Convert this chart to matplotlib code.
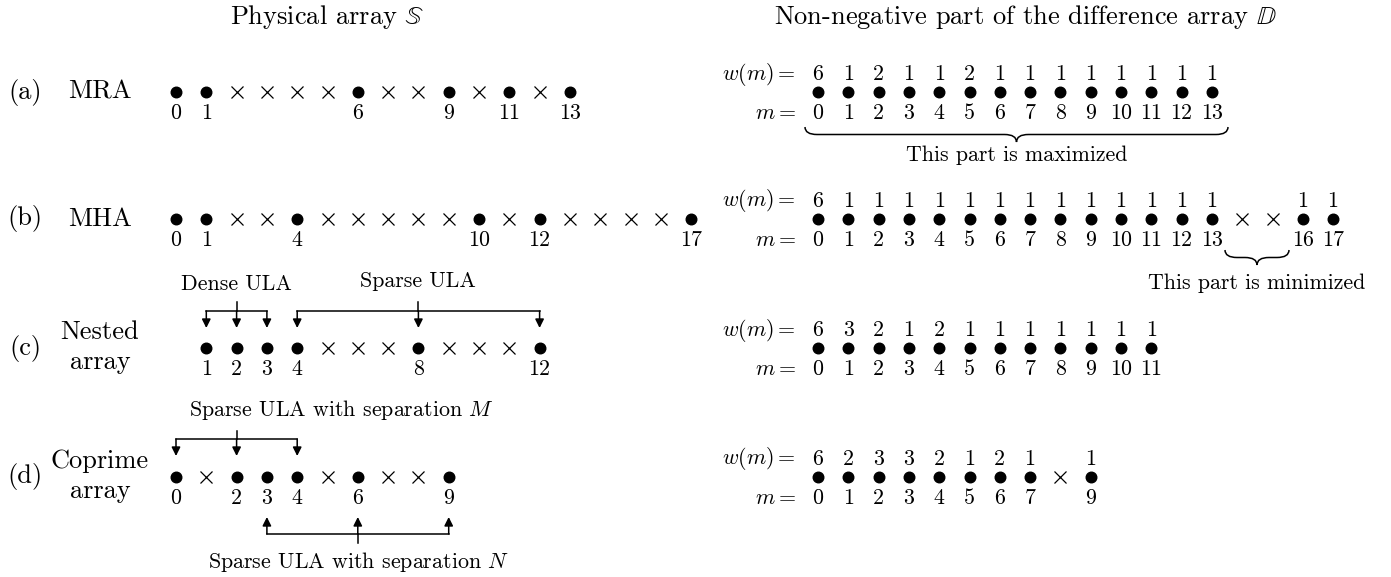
import matplotlib
matplotlib.use("Agg")
import matplotlib.pyplot as plt
import numpy as np
from matplotlib.path import Path
from matplotlib.patches import PathPatch

plt.rcParams["font.family"] = "cmr10"
plt.rcParams["mathtext.fontset"] = "cm"
plt.rcParams["axes.unicode_minus"] = False

# sensor positions of the physical arrays
mra_pos = [0, 1, 6, 9, 11, 13]
mha_pos = [0, 1, 4, 10, 12, 17]
nested_pos = [1, 2, 3, 4, 8, 12]
coprime_pos = [0, 2, 3, 4, 6, 9]

# weight function w(m) for m >= 0 (0 means a hole in the difference array)
mra_w = [6, 1, 2, 1, 1, 2, 1, 1, 1, 1, 1, 1, 1, 1]
mha_w = [6, 1, 1, 1, 1, 1, 1, 1, 1, 1, 1, 1, 1, 1, 0, 0, 1, 1]
nested_w = [6, 3, 2, 1, 2, 1, 1, 1, 1, 1, 1, 1]
coprime_w = [6, 2, 3, 3, 2, 1, 2, 1, 0, 1]

row_tags = ["(a)", "(b)", "(c)", "(d)"]
row_names = ["MRA", "MHA", "Nested\narray", "Coprime\narray"]

# layout (pixels)
ROW_Y = [92, 219, 348, 477]
LX0, RX0, STEP = 176, 818, 30.3
BIG, SMALL = 19, 15.8


def lx(k):
    return LX0 + STEP * np.asarray(k, dtype=float)


def rx(k):
    return RX0 + STEP * np.asarray(k, dtype=float)


def draw_physical(ax, pos, y):
    span = list(range(min(pos), max(pos) + 1))
    holes = [k for k in span if k not in pos]
    ax.plot(lx(pos), [y] * len(pos), "o", ms=7.6, color="k")
    if holes:
        ax.plot(lx(holes), [y] * len(holes), "x", ms=8.5, mew=0.9, color="k")
    for k in pos:
        ax.text(lx(k), y + 21, str(k), ha="center", va="center", fontsize=SMALL)


def draw_coarray(ax, w, y):
    lags = np.arange(len(w))
    w = np.asarray(w)
    ok = lags[w > 0]
    holes = lags[w == 0]
    ax.plot(rx(ok), [y] * len(ok), "o", ms=7.6, color="k")
    if len(holes):
        ax.plot(rx(holes), [y] * len(holes), "x", ms=8.5, mew=0.9, color="k")
    for m in ok:
        ax.text(rx(m), y - 18, str(w[m]), ha="center", va="center", fontsize=SMALL)
        ax.text(rx(m), y + 21, str(m), ha="center", va="center", fontsize=SMALL)
    ax.text(796, y - 18, r"$w(m) =$", ha="right", va="center", fontsize=SMALL)
    ax.text(796, y + 21, r"$m =$", ha="right", va="center", fontsize=SMALL)


def brace(ax, x1, x2, y0, h):
    y1 = y0 + h / 2
    xm = (x1 + x2) / 2
    q = min(12, (x2 - x1) / 4)
    verts = [(x1, y0), (x1, y1), (x1 + q, y1), (xm - q, y1),
             (xm, y1), (xm, y0 + h), (xm, y1), (xm + q, y1),
             (x2 - q, y1), (x2, y1), (x2, y0)]
    codes = [Path.MOVETO, Path.CURVE3, Path.CURVE3, Path.LINETO,
             Path.CURVE3, Path.CURVE3, Path.CURVE3, Path.CURVE3,
             Path.LINETO, Path.CURVE3, Path.CURVE3]
    ax.add_patch(PathPatch(Path(verts, codes), fc="none", ec="k", lw=1.1))


def bracket(ax, xs, x_stem, y_line, y_tip, y_stem):
    xs = lx(xs)
    xc = lx(x_stem)
    ax.plot([xs.min(), xs.max()], [y_line, y_line], color="k", lw=1.1)
    ax.plot([xc, xc], [y_stem, y_line], color="k", lw=1.1)
    for x in xs:
        ax.annotate("", xy=(x, y_tip), xytext=(x, y_line),
                    arrowprops=dict(arrowstyle="-|>", color="k", lw=1.1,
                                    mutation_scale=13, shrinkA=0, shrinkB=0))


fig = plt.figure(figsize=(13.91, 5.77), dpi=100)
ax = fig.add_axes([0, 0, 1, 1])
ax.set_xlim(0, 1391)
ax.set_ylim(577, 0)
ax.axis("off")

ax.text(327, 17, r"Physical array $\mathbb{S}$", ha="center", va="center",
        fontsize=BIG, math_fontfamily="stix")
ax.text(1025, 17, r"Non-negative part of the difference array $\mathbb{D}$",
        ha="center", va="center", fontsize=BIG, math_fontfamily="stix")

for tag, name, y in zip(row_tags, row_names, ROW_Y):
    ax.text(25, y, tag, ha="center", va="center", fontsize=BIG)
    lines = name.split("\n")
    if len(lines) == 1:
        ax.text(100, y, name, ha="center", va="center", fontsize=BIG)
    else:
        ax.text(100, y - 16, lines[0], ha="center", va="center", fontsize=BIG)
        ax.text(100, y + 14, lines[1], ha="center", va="center", fontsize=BIG)

for pos, y in zip([mra_pos, mha_pos, nested_pos, coprime_pos], ROW_Y):
    draw_physical(ax, pos, y)

for w, y in zip([mra_w, mha_w, nested_w, coprime_w], ROW_Y):
    draw_coarray(ax, w, y)

# braces on the difference arrays
brace(ax, 805, 1228, 127, 15)
ax.text(1017, 155, "This part is maximized", ha="center", va="center", fontsize=SMALL)
brace(ax, 1225, 1289, 250, 15)
ax.text(1257, 283, "This part is minimized", ha="center", va="center", fontsize=SMALL)

# nested array sub-arrays
bracket(ax, [1, 2, 3], 2, 311, 328, 302)
bracket(ax, [4, 8, 12], 8, 311, 328, 302)
ax.text(lx(2), 284, "Dense ULA", ha="center", va="center", fontsize=SMALL)
ax.text(lx(8), 281, "Sparse ULA", ha="center", va="center", fontsize=SMALL)

# coprime array sub-arrays
bracket(ax, [0, 2, 4], 2, 439, 456, 431)
bracket(ax, [3, 6, 9], 6, 534, 517, 543)
ax.text(341, 410, r"Sparse ULA with separation $M$", ha="center", va="center", fontsize=SMALL)
ax.text(358, 562, r"Sparse ULA with separation $N$", ha="center", va="center", fontsize=SMALL)

fig.savefig("out.png", dpi=100)
